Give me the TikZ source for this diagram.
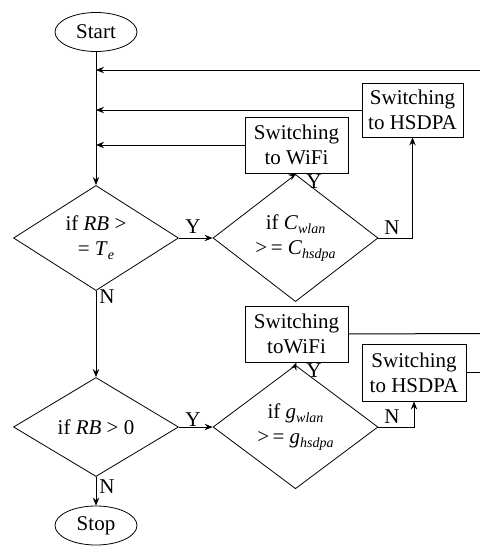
\documentclass[tikz,border=0pt]{standalone}
\usepackage{fontspec}
\setmainfont{Liberation Serif}
\usetikzlibrary{shapes.geometric,arrows.meta}
\newcommand{\lowsub}[1]{\raisebox{-0.45ex}{\scriptsize\itshape #1}}
\begin{document}
\begin{tikzpicture}[x=0.5pt,y=-0.5pt,
  every node/.style={font=\fontsize{10.5}{12.5}\selectfont},
  term/.style={draw,ellipse,minimum width=41pt,minimum height=19.5pt,inner sep=0pt},
  decide/.style={draw,diamond,minimum width=82.5pt,minimum height=49.5pt,inner sep=0pt,align=center},
  act/.style={draw,rectangle,minimum width=51.5pt,minimum height=28pt,inner sep=1pt,align=center},
  lbl/.style={inner sep=0pt},
  line/.style={line width=0.5pt},
  arr/.style={line width=0.5pt,-{Stealth[length=4pt,width=3.2pt]}}]
\useasboundingbox (0,0) rectangle (480,546);
% nodes
\node[term] (start) at (96,32) {Start};
\node[decide] (d1) at (96,238) {if \textit{RB} >\\ = \textit{T}\lowsub{e}};
\node[decide] (d2) at (295.5,238) {if \textit{C}\lowsub{wlan}\\ >\,= \textit{C}\lowsub{hsdpa}};
\node[act] (w1) at (296.5,145) {Switching\\ to WiFi};
\node[act,minimum width=50.5pt,minimum height=27pt] (h1) at (412.5,110) {Switching\\ to HSDPA};
\node[decide] (d3) at (96,427) {if \textit{RB} > 0};
\node[decide] (d4) at (295.5,427) {if \textit{g}\lowsub{wlan}\\ >\,= \textit{g}\lowsub{hsdpa}};
\node[act] (w2) at (296.5,334) {Switching\\ toWiFi};
\node[act,minimum width=52pt,minimum height=28.5pt] (h2) at (414,372.5) {Switching\\ to HSDPA};
\node[term] (stop) at (96,525.5) {Stop};
\coordinate (e0) at (480,70);
\coordinate (e1) at (480,333.5);
\coordinate (e2) at (480,372.5);
% connectors
\draw[arr] (start) -- (d1);
\draw[arr] (e0) -- (e0 -| start);
\draw[arr] (h1.west) -- (h1.west -| start);
\draw[arr] (w1.west) -- (w1.west -| start);
\draw[arr] (d1.east) -- (d2.west);
\draw[arr] (d2.north) -- (w1.south);
\draw[arr] (d2.east) -| (h1.south);
\draw[arr] (d1.south) -- (d3.north);
\draw[arr] (d3.east) -- (d4.west);
\draw[arr] (d4.north) -- (w2.south);
\draw[arr] (d4.east) -| (h2.south);
\draw[arr] (d3.south) -- (stop.north);
\draw[line] (w2.east) -- (e1);
\draw[line] (h2.east) -- (e2);
% labels
\node[lbl] (y1) at (193,227) {Y};
\node[lbl] (y2) at (314,182) {Y};
\node[lbl] (n1) at (392,228) {N};
\node[lbl] (n2) at (107,297) {N};
\node[lbl] (y3) at (193,420) {Y};
\node[lbl] (y4) at (314,371) {Y};
\node[lbl] (n3) at (392,417) {N};
\node[lbl] (n4) at (107,487) {N};
\end{tikzpicture}
\end{document}
